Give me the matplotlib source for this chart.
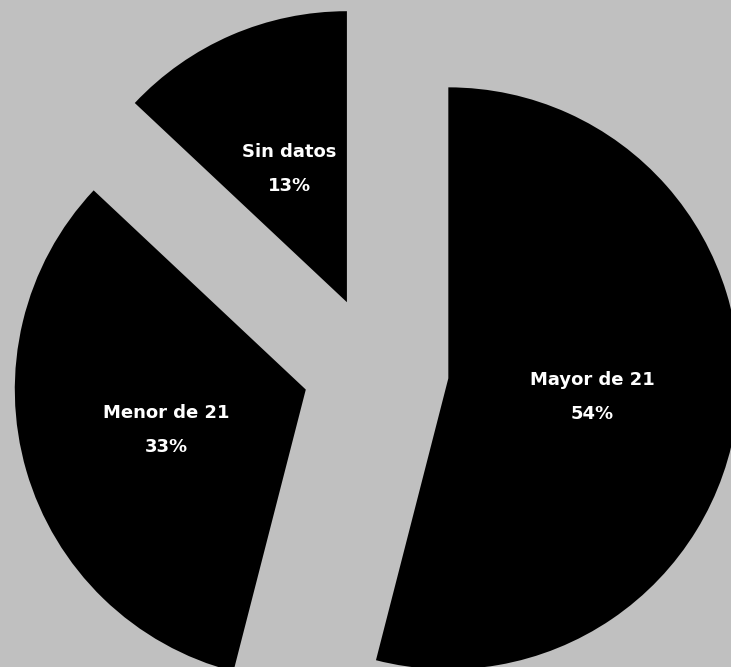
import numpy as np
import matplotlib.pyplot as plt

categorias = ["Mayor de 21", "Menor de 21", "Sin datos"]
porcentajes = [54, 33, 13]

W, H = 731, 667
fondo = "#c0c0c0"

fig = plt.figure(figsize=(W / 100, H / 100), dpi=100, facecolor=fondo)
ax = fig.add_axes([0, 0, 1, 1])
ax.set_facecolor(fondo)

radio = 291
centro = (375.9, H - 369.2)
separacion = 73

wedges, _ = ax.pie(porcentajes, startangle=90, counterclock=False,
                   colors=["black"] * 3, radius=radio, center=centro,
                   explode=[separacion] * 3,
                   wedgeprops=dict(linewidth=0))

for w, nombre, p in zip(wedges, categorias, porcentajes):
    ang = np.deg2rad((w.theta1 + w.theta2) / 2)
    cx, cy = w.center
    x = cx + 0.5 * radio * np.cos(ang)
    y = cy + 0.5 * radio * np.sin(ang)
    ax.text(x, y + 17, nombre, ha="center", va="center", color="white",
            fontsize=13, fontweight="bold")
    ax.text(x, y - 17, f"{p}%", ha="center", va="center", color="white",
            fontsize=13, fontweight="bold")

ax.set_xlim(0, W)
ax.set_ylim(0, H)
ax.set_aspect("auto")
ax.axis("off")

fig.savefig("out.png", dpi=100, facecolor=fondo)
